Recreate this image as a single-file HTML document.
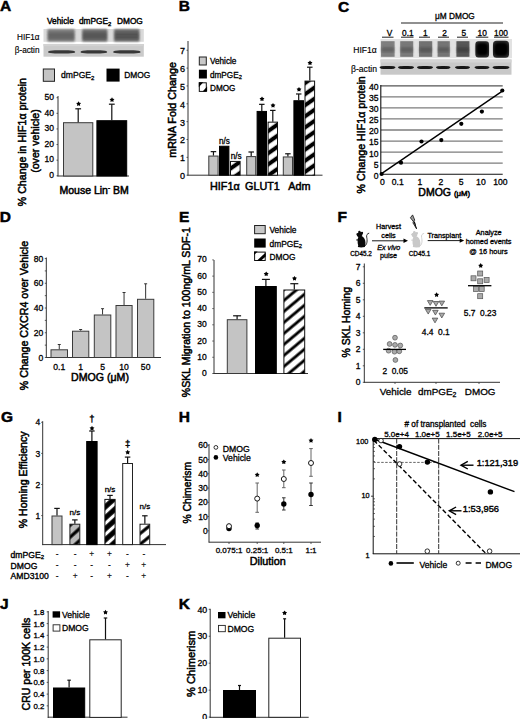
<!DOCTYPE html>
<html><head><meta charset="utf-8"><style>
html,body{margin:0;padding:0;background:#fff;width:520px;height:719px;overflow:hidden}
svg{display:block;font-family:"Liberation Sans",sans-serif}
text{stroke:#000;white-space:pre}
</style></head><body>
<svg width="520" height="719" viewBox="0 0 520 719">
<defs>
<filter id="bl1" x="-20%" y="-40%" width="140%" height="180%"><feGaussianBlur stdDeviation="1"/></filter>
<filter id="bl08" x="-20%" y="-60%" width="140%" height="220%"><feGaussianBlur stdDeviation="0.8"/></filter>
<filter id="bl05" x="-20%" y="-60%" width="140%" height="220%"><feGaussianBlur stdDeviation="0.6"/></filter>
<pattern id="hB" patternUnits="userSpaceOnUse" width="9.093" height="9.093" patternTransform="translate(305,94.2) rotate(-35)"><rect width="9.093" height="9.093" fill="#fff"/><rect y="0" width="9.093" height="2.046" fill="#000"/><rect y="7.047" width="9.093" height="2.046" fill="#000"/></pattern>
<pattern id="hE" patternUnits="userSpaceOnUse" width="8.426" height="8.426" patternTransform="translate(284,344.4) rotate(-40)"><rect width="8.426" height="8.426" fill="#fff"/><rect y="0" width="8.426" height="1.433" fill="#000"/><rect y="6.994" width="8.426" height="1.433" fill="#000"/></pattern>


<pattern id="hG1" patternUnits="userSpaceOnUse" width="8.918" height="8.918" patternTransform="translate(69.5,537.7) rotate(-42)"><rect width="8.918" height="8.918" fill="#bcbcbc"/><rect y="0" width="8.918" height="1.605" fill="#000"/><rect y="7.313" width="8.918" height="1.605" fill="#000"/></pattern>
<pattern id="hG2" patternUnits="userSpaceOnUse" width="8.175" height="8.175" patternTransform="translate(104.6,518.5) rotate(-42)"><rect width="8.175" height="8.175" fill="#fff"/><rect y="0" width="8.175" height="2.534" fill="#000"/><rect y="5.640" width="8.175" height="2.534" fill="#000"/></pattern>
<pattern id="hG3" patternUnits="userSpaceOnUse" width="8.315" height="8.315" patternTransform="translate(139.9,533.7) rotate(-39)"><rect width="8.315" height="8.315" fill="#fff"/><rect y="0" width="8.315" height="1.538" fill="#000"/><rect y="6.777" width="8.315" height="1.538" fill="#000"/></pattern>
</defs>
<text x="0.00" y="10.80" font-size="15.5" stroke-width="0.5" font-weight="bold">A</text>
<text x="178.80" y="11.00" font-size="15.5" stroke-width="0.5" font-weight="bold">B</text>
<text x="338.10" y="11.50" font-size="15.5" stroke-width="0.5" font-weight="bold">C</text>
<text x="-0.20" y="221.90" font-size="15.5" stroke-width="0.5" font-weight="bold">D</text>
<text x="179.00" y="222.30" font-size="15.5" stroke-width="0.5" font-weight="bold">E</text>
<text x="337.50" y="221.90" font-size="15.5" stroke-width="0.5" font-weight="bold">F</text>
<text x="1.00" y="421.50" font-size="15.5" stroke-width="0.5" font-weight="bold">G</text>
<text x="178.70" y="421.70" font-size="15.5" stroke-width="0.5" font-weight="bold">H</text>
<text x="337.50" y="421.50" font-size="15.5" stroke-width="0.5" font-weight="bold">I</text>
<text x="0.00" y="609.00" font-size="15.5" stroke-width="0.5" font-weight="bold">J</text>
<text x="178.70" y="608.80" font-size="15.5" stroke-width="0.5" font-weight="bold">K</text>
<text x="47.00" y="24.30" font-size="8.3" stroke-width="0.4">Vehicle</text>
<text x="79.00" y="24.30" font-size="8.3" stroke-width="0.4">dmPGE<tspan font-size="70%" dy="1.5">2</tspan></text>
<text x="117.00" y="24.30" font-size="8.3" stroke-width="0.4">DMOG</text>
<text x="39.50" y="39.50" font-size="8.2" stroke-width="0.15" text-anchor="end">HIF1α</text>
<text x="39.50" y="53.20" font-size="8.2" stroke-width="0.15" text-anchor="end">β-actin</text>
<rect x="43.5" y="29" width="100.3" height="12.8" fill="#dadada"/>
<rect x="47.6" y="29.4" width="26.999999999999993" height="12.2" fill="#8a8a8a" filter="url(#bl08)"/>
<rect x="48.1" y="32.5" width="25.999999999999993" height="6.5" fill="#4e4e4e" opacity="0.45" filter="url(#bl1)"/>
<rect x="47.9" y="29.8" width="26.39999999999999" height="1.5" fill="#4e4e4e" opacity="0.6" filter="url(#bl08)"/>
<rect x="47.9" y="32.8" width="26.39999999999999" height="1.5" fill="#4e4e4e" opacity="0.6" filter="url(#bl08)"/>
<rect x="47.9" y="35.8" width="26.39999999999999" height="1.5" fill="#4e4e4e" opacity="0.6" filter="url(#bl08)"/>
<rect x="47.9" y="38.8" width="26.39999999999999" height="1.5" fill="#4e4e4e" opacity="0.6" filter="url(#bl08)"/>
<rect x="82.3" y="29.4" width="24.900000000000006" height="12.2" fill="#7c7c7c" filter="url(#bl08)"/>
<rect x="82.8" y="32.5" width="23.900000000000006" height="6.5" fill="#404040" opacity="0.45" filter="url(#bl1)"/>
<rect x="82.6" y="29.8" width="24.300000000000004" height="1.5" fill="#404040" opacity="0.6" filter="url(#bl08)"/>
<rect x="82.6" y="32.8" width="24.300000000000004" height="1.5" fill="#404040" opacity="0.6" filter="url(#bl08)"/>
<rect x="82.6" y="35.8" width="24.300000000000004" height="1.5" fill="#404040" opacity="0.6" filter="url(#bl08)"/>
<rect x="82.6" y="38.8" width="24.300000000000004" height="1.5" fill="#404040" opacity="0.6" filter="url(#bl08)"/>
<rect x="114.2" y="29.4" width="25.10000000000001" height="12.2" fill="#7a7a7a" filter="url(#bl08)"/>
<rect x="114.7" y="32.5" width="24.10000000000001" height="6.5" fill="#3c3c3c" opacity="0.45" filter="url(#bl1)"/>
<rect x="114.5" y="29.8" width="24.500000000000007" height="1.5" fill="#3c3c3c" opacity="0.6" filter="url(#bl08)"/>
<rect x="114.5" y="32.8" width="24.500000000000007" height="1.5" fill="#3c3c3c" opacity="0.6" filter="url(#bl08)"/>
<rect x="114.5" y="35.8" width="24.500000000000007" height="1.5" fill="#3c3c3c" opacity="0.6" filter="url(#bl08)"/>
<rect x="114.5" y="38.8" width="24.500000000000007" height="1.5" fill="#3c3c3c" opacity="0.6" filter="url(#bl08)"/>
<rect x="43.5" y="44" width="100.3" height="12.7" fill="#cacaca"/>
<rect x="43.5" y="44" width="100.3" height="2.2" fill="#d2d2d2"/>
<rect x="48" y="50.2" width="27.200000000000003" height="3.4" rx="7" ry="1.7" fill="#383838" filter="url(#bl05)"/>
<rect x="80.5" y="50.2" width="26.700000000000003" height="3.4" rx="7" ry="1.7" fill="#383838" filter="url(#bl05)"/>
<rect x="113.1" y="50.2" width="27.5" height="3.4" rx="7" ry="1.7" fill="#383838" filter="url(#bl05)"/>
<rect x="43.30" y="69.00" width="11.20" height="12.30" fill="#c4c4c4" stroke="#222" stroke-width="1"/>
<text x="61.00" y="78.00" font-size="8.6" stroke-width="0.3">dmPGE<tspan font-size="70%" dy="1.5">2</tspan></text>
<rect x="106.50" y="68.60" width="13.10" height="13.00" fill="#000"/>
<text x="124.20" y="78.00" font-size="8.4" stroke-width="0.3">DMOG</text>
<line x1="58.00" y1="96.00" x2="58.00" y2="176.30" stroke="#333" stroke-width="1"/>
<line x1="57.50" y1="176.00" x2="129.00" y2="176.00" stroke="#333" stroke-width="1"/>
<text x="54.00" y="178.10" font-size="8.5" stroke-width="0.3" text-anchor="end">0</text>
<line x1="56.50" y1="175.80" x2="58.00" y2="175.80" stroke="#333" stroke-width="0.8"/>
<text x="54.00" y="162.48" font-size="8.5" stroke-width="0.3" text-anchor="end">10</text>
<line x1="56.50" y1="160.18" x2="58.00" y2="160.18" stroke="#333" stroke-width="0.8"/>
<text x="54.00" y="146.86" font-size="8.5" stroke-width="0.3" text-anchor="end">20</text>
<line x1="56.50" y1="144.56" x2="58.00" y2="144.56" stroke="#333" stroke-width="0.8"/>
<text x="54.00" y="131.24" font-size="8.5" stroke-width="0.3" text-anchor="end">30</text>
<line x1="56.50" y1="128.94" x2="58.00" y2="128.94" stroke="#333" stroke-width="0.8"/>
<text x="54.00" y="115.62" font-size="8.5" stroke-width="0.3" text-anchor="end">40</text>
<line x1="56.50" y1="113.32" x2="58.00" y2="113.32" stroke="#333" stroke-width="0.8"/>
<text x="54.00" y="100.00" font-size="8.5" stroke-width="0.3" text-anchor="end">50</text>
<line x1="56.50" y1="97.70" x2="58.00" y2="97.70" stroke="#333" stroke-width="0.8"/>
<rect x="63.50" y="122.70" width="29.30" height="53.30" fill="#c4c4c4" stroke="#3a3a3a" stroke-width="1"/>
<rect x="96.90" y="120.70" width="29.80" height="55.30" fill="#000" stroke="#000" stroke-width="1"/>
<line x1="78.20" y1="122.20" x2="78.20" y2="108.80" stroke="#111" stroke-width="1.2"/>
<line x1="75.30" y1="108.80" x2="81.10" y2="108.80" stroke="#111" stroke-width="1.2"/>
<line x1="111.80" y1="120.20" x2="111.80" y2="104.20" stroke="#111" stroke-width="1.2"/>
<line x1="108.90" y1="104.20" x2="114.70" y2="104.20" stroke="#111" stroke-width="1.2"/>
<polygon points="78.60,101.20 79.44,102.64 81.07,103.00 79.96,104.24 80.13,105.90 78.60,105.23 77.07,105.90 77.24,104.24 76.13,103.00 77.76,102.64" fill="#000"/>
<polygon points="112.00,97.20 112.84,98.64 114.47,99.00 113.36,100.24 113.53,101.90 112.00,101.23 110.47,101.90 110.64,100.24 109.53,99.00 111.16,98.64" fill="#000"/>
<text x="59.50" y="193.80" font-size="10.5" stroke-width="0.5">Mouse Lin<tspan font-size="60%" dy="-4">-</tspan><tspan dy="4"> BM</tspan></text>
<text x="26.00" y="142.15" font-size="10.6" stroke-width="0.5" text-anchor="middle" transform="rotate(-90 26.00 142.15)">% Change in HIF1α protein</text>
<text x="38.60" y="141.00" font-size="10.6" stroke-width="0.5" text-anchor="middle" transform="rotate(-90 38.60 141.00)">(over vehicle)</text>
<line x1="188.00" y1="41.00" x2="188.00" y2="175.50" stroke="#333" stroke-width="1"/>
<line x1="187.50" y1="175.20" x2="322.50" y2="175.20" stroke="#333" stroke-width="1"/>
<text x="185.00" y="179.10" font-size="9" stroke-width="0.3" text-anchor="end">0</text>
<line x1="186.50" y1="175.20" x2="188.00" y2="175.20" stroke="#333" stroke-width="0.8"/>
<text x="185.00" y="161.25" font-size="9" stroke-width="0.3" text-anchor="end">1</text>
<line x1="186.50" y1="157.35" x2="188.00" y2="157.35" stroke="#333" stroke-width="0.8"/>
<text x="185.00" y="143.40" font-size="9" stroke-width="0.3" text-anchor="end">2</text>
<line x1="186.50" y1="139.50" x2="188.00" y2="139.50" stroke="#333" stroke-width="0.8"/>
<text x="185.00" y="125.55" font-size="9" stroke-width="0.3" text-anchor="end">3</text>
<line x1="186.50" y1="121.65" x2="188.00" y2="121.65" stroke="#333" stroke-width="0.8"/>
<text x="185.00" y="107.70" font-size="9" stroke-width="0.3" text-anchor="end">4</text>
<line x1="186.50" y1="103.80" x2="188.00" y2="103.80" stroke="#333" stroke-width="0.8"/>
<text x="185.00" y="89.85" font-size="9" stroke-width="0.3" text-anchor="end">5</text>
<line x1="186.50" y1="85.95" x2="188.00" y2="85.95" stroke="#333" stroke-width="0.8"/>
<text x="185.00" y="72.00" font-size="9" stroke-width="0.3" text-anchor="end">6</text>
<line x1="186.50" y1="68.10" x2="188.00" y2="68.10" stroke="#333" stroke-width="0.8"/>
<text x="185.00" y="54.15" font-size="9" stroke-width="0.3" text-anchor="end">7</text>
<line x1="186.50" y1="50.25" x2="188.00" y2="50.25" stroke="#333" stroke-width="0.8"/>
<text x="176.00" y="109.90" font-size="10.75" stroke-width="0.5" text-anchor="middle" transform="rotate(-90 176.00 109.90)">mRNA Fold Change</text>
<rect x="199.30" y="57.00" width="7.00" height="8.00" fill="#c8c8c8" stroke="#222" stroke-width="1"/>
<rect x="198.90" y="69.70" width="8.00" height="8.80" fill="#000"/>
<rect x="199.30" y="82.80" width="7.00" height="8.60" fill="#fff" stroke="#111" stroke-width="1"/>
<polygon points="198.8,82.3 203.2,82.3 198.8,87.3" fill="#000"/>
<polygon points="207.1,91.6 202.6,91.6 207.1,86.4" fill="#000"/>
<text x="210.00" y="64.20" font-size="8.2" stroke-width="0.3">Vehicle</text>
<text x="210.00" y="77.60" font-size="8.2" stroke-width="0.3">dmPGE<tspan font-size="70%" dy="1.5">2</tspan></text>
<text x="210.00" y="90.60" font-size="8.2" stroke-width="0.3">DMOG</text>
<rect x="208.80" y="156.06" width="9.30" height="19.13" fill="#c4c4c4" stroke="#3a3a3a" stroke-width="1"/>
<line x1="213.45" y1="155.56" x2="213.45" y2="151.64" stroke="#111" stroke-width="1.2"/>
<line x1="210.70" y1="151.64" x2="216.20" y2="151.64" stroke="#111" stroke-width="1.2"/>
<rect x="219.50" y="146.25" width="9.40" height="28.95" fill="#000" stroke="#000" stroke-width="1"/>
<rect x="230.50" y="161.42" width="9.60" height="13.78" fill="url(#hB)" stroke="#111" stroke-width="1"/>
<rect x="246.70" y="156.60" width="9.00" height="18.60" fill="#c4c4c4" stroke="#3a3a3a" stroke-width="1"/>
<line x1="251.20" y1="156.10" x2="251.20" y2="151.99" stroke="#111" stroke-width="1.2"/>
<line x1="248.45" y1="151.99" x2="253.95" y2="151.99" stroke="#111" stroke-width="1.2"/>
<rect x="257.10" y="111.44" width="9.40" height="63.76" fill="#000" stroke="#000" stroke-width="1"/>
<line x1="261.80" y1="110.94" x2="261.80" y2="104.34" stroke="#111" stroke-width="1.2"/>
<line x1="259.05" y1="104.34" x2="264.55" y2="104.34" stroke="#111" stroke-width="1.2"/>
<rect x="268.10" y="122.15" width="9.40" height="53.05" fill="url(#hB)" stroke="#111" stroke-width="1"/>
<line x1="272.80" y1="121.65" x2="272.80" y2="110.40" stroke="#111" stroke-width="1.2"/>
<line x1="270.05" y1="110.40" x2="275.55" y2="110.40" stroke="#111" stroke-width="1.2"/>
<rect x="283.30" y="156.96" width="9.20" height="18.24" fill="#c4c4c4" stroke="#3a3a3a" stroke-width="1"/>
<line x1="287.90" y1="156.46" x2="287.90" y2="153.78" stroke="#111" stroke-width="1.2"/>
<line x1="285.15" y1="153.78" x2="290.65" y2="153.78" stroke="#111" stroke-width="1.2"/>
<rect x="293.90" y="100.73" width="9.60" height="74.47" fill="#000" stroke="#000" stroke-width="1"/>
<line x1="298.70" y1="100.23" x2="298.70" y2="93.98" stroke="#111" stroke-width="1.2"/>
<line x1="295.95" y1="93.98" x2="301.45" y2="93.98" stroke="#111" stroke-width="1.2"/>
<rect x="305.00" y="81.09" width="9.60" height="94.11" fill="url(#hB)" stroke="#111" stroke-width="1"/>
<line x1="309.80" y1="80.59" x2="309.80" y2="67.21" stroke="#111" stroke-width="1.2"/>
<line x1="307.05" y1="67.21" x2="312.55" y2="67.21" stroke="#111" stroke-width="1.2"/>
<polygon points="262.00,96.40 262.84,97.84 264.47,98.20 263.36,99.44 263.53,101.10 262.00,100.43 260.47,101.10 260.64,99.44 259.53,98.20 261.16,97.84" fill="#000"/>
<polygon points="273.00,102.90 273.84,104.34 275.47,104.70 274.36,105.94 274.53,107.60 273.00,106.93 271.47,107.60 271.64,105.94 270.53,104.70 272.16,104.34" fill="#000"/>
<polygon points="299.00,86.90 299.84,88.34 301.47,88.70 300.36,89.94 300.53,91.60 299.00,90.93 297.47,91.60 297.64,89.94 296.53,88.70 298.16,88.34" fill="#000"/>
<polygon points="310.00,60.40 310.84,61.84 312.47,62.20 311.36,63.44 311.53,65.10 310.00,64.43 308.47,65.10 308.64,63.44 307.53,62.20 309.16,61.84" fill="#000"/>
<text x="224.50" y="143.60" font-size="8.2" stroke-width="0.3" text-anchor="middle">n/s</text>
<text x="236.10" y="159.30" font-size="8.2" stroke-width="0.3" text-anchor="middle">n/s</text>
<text x="224.85" y="190.40" font-size="10.8" stroke-width="0.5" text-anchor="middle">HIF1α</text>
<text x="262.45" y="190.40" font-size="10.8" stroke-width="0.5" text-anchor="middle">GLUT1</text>
<text x="299.40" y="190.40" font-size="10.8" stroke-width="0.5" text-anchor="middle">Adm</text>
<text x="435.00" y="19.20" font-size="8.3" stroke-width="0.3">μM DMOG</text>
<line x1="401.00" y1="23.00" x2="503.00" y2="23.00" stroke="#222" stroke-width="1.2"/>
<text x="389.50" y="35.80" font-size="8.3" stroke-width="0.3" text-anchor="middle">V</text>
<line x1="382.00" y1="37.20" x2="393.50" y2="37.20" stroke="#222" stroke-width="1"/>
<text x="407.80" y="35.80" font-size="8.3" stroke-width="0.3" text-anchor="middle">0.1</text>
<line x1="401.00" y1="37.20" x2="413.50" y2="37.20" stroke="#222" stroke-width="1"/>
<text x="425.30" y="35.80" font-size="8.3" stroke-width="0.3" text-anchor="middle">1</text>
<line x1="419.00" y1="37.20" x2="430.00" y2="37.20" stroke="#222" stroke-width="1"/>
<text x="444.50" y="35.80" font-size="8.3" stroke-width="0.3" text-anchor="middle">2</text>
<line x1="438.00" y1="37.20" x2="449.00" y2="37.20" stroke="#222" stroke-width="1"/>
<text x="463.80" y="35.80" font-size="8.3" stroke-width="0.3" text-anchor="middle">5</text>
<line x1="457.00" y1="37.20" x2="468.00" y2="37.20" stroke="#222" stroke-width="1"/>
<text x="482.20" y="35.80" font-size="8.3" stroke-width="0.3" text-anchor="middle">10</text>
<line x1="475.80" y1="37.20" x2="488.30" y2="37.20" stroke="#222" stroke-width="1"/>
<text x="501.00" y="35.80" font-size="8.3" stroke-width="0.3" text-anchor="middle">100</text>
<line x1="494.00" y1="37.20" x2="508.50" y2="37.20" stroke="#222" stroke-width="1"/>
<rect x="380.5" y="39" width="131.5" height="19.2" fill="#e2e2e2"/>
<rect x="381" y="41.2" width="13.600000000000023" height="15.6" fill="#8c8c8c" filter="url(#bl05)"/>
<rect x="381.5" y="47.2" width="12.600000000000023" height="5.2" fill="#505050" opacity="0.55" filter="url(#bl1)"/>
<rect x="381.4" y="42.1" width="12.800000000000022" height="1.3" fill="#505050" opacity="0.6" filter="url(#bl08)"/>
<rect x="381.4" y="45.3" width="12.800000000000022" height="1.3" fill="#505050" opacity="0.6" filter="url(#bl08)"/>
<rect x="381.4" y="48.6" width="12.800000000000022" height="1.3" fill="#505050" opacity="0.6" filter="url(#bl08)"/>
<rect x="381.4" y="51.7" width="12.800000000000022" height="1.3" fill="#505050" opacity="0.6" filter="url(#bl08)"/>
<rect x="381.4" y="54.8" width="12.800000000000022" height="1.3" fill="#505050" opacity="0.6" filter="url(#bl08)"/>
<rect x="400.2" y="41.2" width="13.0" height="15.6" fill="#868686" filter="url(#bl05)"/>
<rect x="400.7" y="47.2" width="12.0" height="5.2" fill="#4c4c4c" opacity="0.55" filter="url(#bl1)"/>
<rect x="400.59999999999997" y="42.1" width="12.2" height="1.3" fill="#4c4c4c" opacity="0.6" filter="url(#bl08)"/>
<rect x="400.59999999999997" y="45.3" width="12.2" height="1.3" fill="#4c4c4c" opacity="0.6" filter="url(#bl08)"/>
<rect x="400.59999999999997" y="48.6" width="12.2" height="1.3" fill="#4c4c4c" opacity="0.6" filter="url(#bl08)"/>
<rect x="400.59999999999997" y="51.7" width="12.2" height="1.3" fill="#4c4c4c" opacity="0.6" filter="url(#bl08)"/>
<rect x="400.59999999999997" y="54.8" width="12.2" height="1.3" fill="#4c4c4c" opacity="0.6" filter="url(#bl08)"/>
<rect x="419" y="41.2" width="13.199999999999989" height="15.6" fill="#7e7e7e" filter="url(#bl05)"/>
<rect x="419.5" y="47.2" width="12.199999999999989" height="5.2" fill="#444444" opacity="0.55" filter="url(#bl1)"/>
<rect x="419.4" y="42.1" width="12.399999999999988" height="1.3" fill="#444444" opacity="0.6" filter="url(#bl08)"/>
<rect x="419.4" y="45.3" width="12.399999999999988" height="1.3" fill="#444444" opacity="0.6" filter="url(#bl08)"/>
<rect x="419.4" y="48.6" width="12.399999999999988" height="1.3" fill="#444444" opacity="0.6" filter="url(#bl08)"/>
<rect x="419.4" y="51.7" width="12.399999999999988" height="1.3" fill="#444444" opacity="0.6" filter="url(#bl08)"/>
<rect x="419.4" y="54.8" width="12.399999999999988" height="1.3" fill="#444444" opacity="0.6" filter="url(#bl08)"/>
<rect x="437.6" y="41.2" width="12.199999999999989" height="15.6" fill="#828282" filter="url(#bl05)"/>
<rect x="438.1" y="47.2" width="11.199999999999989" height="5.2" fill="#484848" opacity="0.55" filter="url(#bl1)"/>
<rect x="438.0" y="42.1" width="11.399999999999988" height="1.3" fill="#484848" opacity="0.6" filter="url(#bl08)"/>
<rect x="438.0" y="45.3" width="11.399999999999988" height="1.3" fill="#484848" opacity="0.6" filter="url(#bl08)"/>
<rect x="438.0" y="48.6" width="11.399999999999988" height="1.3" fill="#484848" opacity="0.6" filter="url(#bl08)"/>
<rect x="438.0" y="51.7" width="11.399999999999988" height="1.3" fill="#484848" opacity="0.6" filter="url(#bl08)"/>
<rect x="438.0" y="54.8" width="11.399999999999988" height="1.3" fill="#484848" opacity="0.6" filter="url(#bl08)"/>
<rect x="456.4" y="41.2" width="13.0" height="15.6" fill="#626262" filter="url(#bl05)"/>
<rect x="456.9" y="47.2" width="12.0" height="5.2" fill="#303030" opacity="0.55" filter="url(#bl1)"/>
<rect x="456.79999999999995" y="42.1" width="12.2" height="1.3" fill="#303030" opacity="0.6" filter="url(#bl08)"/>
<rect x="456.79999999999995" y="45.3" width="12.2" height="1.3" fill="#303030" opacity="0.6" filter="url(#bl08)"/>
<rect x="456.79999999999995" y="48.6" width="12.2" height="1.3" fill="#303030" opacity="0.6" filter="url(#bl08)"/>
<rect x="456.79999999999995" y="51.7" width="12.2" height="1.3" fill="#303030" opacity="0.6" filter="url(#bl08)"/>
<rect x="456.79999999999995" y="54.8" width="12.2" height="1.3" fill="#303030" opacity="0.6" filter="url(#bl08)"/>
<rect x="475.4" y="41.2" width="13.6" height="16.2" rx="3" fill="#2a2a2a" filter="url(#bl05)"/>
<rect x="476.4" y="43" width="11.6" height="12.5" rx="4" fill="#050505" filter="url(#bl08)"/>
<rect x="493" y="40.8" width="16" height="17" rx="3.5" fill="#2a2a2a" filter="url(#bl05)"/>
<rect x="494" y="42.5" width="14" height="13.5" rx="4.5" fill="#020202" filter="url(#bl08)"/>
<rect x="380.5" y="59.5" width="131" height="15.2" fill="#c8c8c8"/>
<rect x="380.5" y="59.5" width="131" height="3" fill="#d4d4d4"/>
<rect x="379.5" y="65.9" width="16.0" height="3.2" rx="6" ry="1.6" fill="#141414" filter="url(#bl05)"/>
<rect x="398" y="65.9" width="16" height="3.2" rx="6" ry="1.6" fill="#141414" filter="url(#bl05)"/>
<rect x="417" y="65.9" width="16" height="3.2" rx="6" ry="1.6" fill="#141414" filter="url(#bl05)"/>
<rect x="436" y="65.9" width="14.5" height="3.2" rx="6" ry="1.6" fill="#141414" filter="url(#bl05)"/>
<rect x="455" y="65.9" width="15" height="3.2" rx="6" ry="1.6" fill="#141414" filter="url(#bl05)"/>
<rect x="474.5" y="65.9" width="15.0" height="3.2" rx="6" ry="1.6" fill="#141414" filter="url(#bl05)"/>
<rect x="492.5" y="65.9" width="17.0" height="3.2" rx="6" ry="1.6" fill="#141414" filter="url(#bl05)"/>
<text x="376.80" y="53.30" font-size="8.6" stroke-width="0.15" text-anchor="end">HIF1α</text>
<text x="377.00" y="71.50" font-size="8.6" stroke-width="0.15" text-anchor="end">β-actin</text>
<line x1="380.80" y1="163.15" x2="502.70" y2="163.15" stroke="#7c7c7c" stroke-width="1.3"/>
<line x1="380.80" y1="152.10" x2="502.70" y2="152.10" stroke="#7c7c7c" stroke-width="1.3"/>
<line x1="380.80" y1="141.05" x2="502.70" y2="141.05" stroke="#7c7c7c" stroke-width="1.3"/>
<line x1="380.80" y1="130.00" x2="502.70" y2="130.00" stroke="#7c7c7c" stroke-width="1.3"/>
<line x1="380.80" y1="118.95" x2="502.70" y2="118.95" stroke="#7c7c7c" stroke-width="1.3"/>
<line x1="380.80" y1="107.90" x2="502.70" y2="107.90" stroke="#7c7c7c" stroke-width="1.3"/>
<line x1="380.80" y1="96.85" x2="502.70" y2="96.85" stroke="#7c7c7c" stroke-width="1.3"/>
<line x1="380.80" y1="85.80" x2="502.70" y2="85.80" stroke="#555" stroke-width="1.3"/>
<line x1="380.80" y1="85.00" x2="380.80" y2="174.70" stroke="#111" stroke-width="1.1"/>
<line x1="380.30" y1="174.20" x2="502.70" y2="174.20" stroke="#111" stroke-width="1.1"/>
<text x="378.60" y="178.60" font-size="8.6" stroke-width="0.3" text-anchor="end">0</text>
<text x="378.60" y="167.55" font-size="8.6" stroke-width="0.3" text-anchor="end">5</text>
<text x="378.60" y="156.50" font-size="8.6" stroke-width="0.3" text-anchor="end">10</text>
<text x="378.60" y="145.45" font-size="8.6" stroke-width="0.3" text-anchor="end">15</text>
<text x="378.60" y="134.40" font-size="8.6" stroke-width="0.3" text-anchor="end">20</text>
<text x="378.60" y="123.35" font-size="8.6" stroke-width="0.3" text-anchor="end">25</text>
<text x="378.60" y="112.30" font-size="8.6" stroke-width="0.3" text-anchor="end">30</text>
<text x="378.60" y="101.25" font-size="8.6" stroke-width="0.3" text-anchor="end">35</text>
<text x="378.60" y="90.20" font-size="8.6" stroke-width="0.3" text-anchor="end">40</text>
<text x="382.50" y="185.00" font-size="8.6" stroke-width="0.3" text-anchor="middle">0</text>
<text x="397.70" y="185.00" font-size="8.6" stroke-width="0.3" text-anchor="middle">0.1</text>
<text x="420.00" y="185.00" font-size="8.6" stroke-width="0.3" text-anchor="middle">1</text>
<text x="441.00" y="185.00" font-size="8.6" stroke-width="0.3" text-anchor="middle">2</text>
<text x="461.10" y="185.00" font-size="8.6" stroke-width="0.3" text-anchor="middle">5</text>
<text x="480.90" y="185.00" font-size="8.6" stroke-width="0.3" text-anchor="middle">10</text>
<text x="500.40" y="185.00" font-size="8.6" stroke-width="0.3" text-anchor="middle">100</text>
<circle cx="381.60" cy="174.00" r="2.10" fill="#000"/>
<circle cx="401.00" cy="162.70" r="2.10" fill="#000"/>
<circle cx="421.50" cy="141.50" r="2.10" fill="#000"/>
<circle cx="441.30" cy="140.10" r="2.10" fill="#000"/>
<circle cx="461.30" cy="123.80" r="2.10" fill="#000"/>
<circle cx="481.90" cy="111.60" r="2.10" fill="#000"/>
<circle cx="502.30" cy="90.50" r="2.10" fill="#000"/>
<line x1="380.80" y1="174.20" x2="502.70" y2="90.80" stroke="#000" stroke-width="1.4"/>
<text x="418.30" y="196.30" font-size="10.5" stroke-width="0.5">DMOG <tspan font-size="7.8">(μM)</tspan></text>
<text x="364.80" y="134.85" font-size="10.63" stroke-width="0.5" text-anchor="middle" transform="rotate(-90 364.80 134.85)">% Change HIF1α protein</text>
<line x1="46.30" y1="257.50" x2="46.30" y2="358.00" stroke="#333" stroke-width="1"/>
<line x1="46.00" y1="357.50" x2="161.00" y2="357.50" stroke="#333" stroke-width="1"/>
<text x="43.30" y="360.60" font-size="8.6" stroke-width="0.3" text-anchor="end">0</text>
<text x="43.30" y="335.86" font-size="8.6" stroke-width="0.3" text-anchor="end">20</text>
<text x="43.30" y="311.12" font-size="8.6" stroke-width="0.3" text-anchor="end">40</text>
<text x="43.30" y="286.38" font-size="8.6" stroke-width="0.3" text-anchor="end">60</text>
<text x="43.30" y="261.64" font-size="8.6" stroke-width="0.3" text-anchor="end">80</text>
<line x1="44.80" y1="357.50" x2="46.30" y2="357.50" stroke="#333" stroke-width="0.8"/>
<line x1="44.80" y1="345.13" x2="46.30" y2="345.13" stroke="#333" stroke-width="0.8"/>
<line x1="44.80" y1="332.76" x2="46.30" y2="332.76" stroke="#333" stroke-width="0.8"/>
<line x1="44.80" y1="320.39" x2="46.30" y2="320.39" stroke="#333" stroke-width="0.8"/>
<line x1="44.80" y1="308.02" x2="46.30" y2="308.02" stroke="#333" stroke-width="0.8"/>
<line x1="44.80" y1="295.65" x2="46.30" y2="295.65" stroke="#333" stroke-width="0.8"/>
<line x1="44.80" y1="283.28" x2="46.30" y2="283.28" stroke="#333" stroke-width="0.8"/>
<line x1="44.80" y1="270.91" x2="46.30" y2="270.91" stroke="#333" stroke-width="0.8"/>
<line x1="44.80" y1="258.54" x2="46.30" y2="258.54" stroke="#333" stroke-width="0.8"/>
<rect x="51.00" y="349.80" width="16.50" height="7.70" fill="#c4c4c4" stroke="#3a3a3a" stroke-width="1"/>
<line x1="59.25" y1="349.30" x2="59.25" y2="344.50" stroke="#333" stroke-width="1"/>
<line x1="57.75" y1="344.50" x2="60.75" y2="344.50" stroke="#333" stroke-width="1"/>
<text x="59.25" y="369.90" font-size="8.6" stroke-width="0.3" text-anchor="middle">0.1</text>
<rect x="72.50" y="331.20" width="16.30" height="26.30" fill="#c4c4c4" stroke="#3a3a3a" stroke-width="1"/>
<line x1="80.65" y1="330.70" x2="80.65" y2="329.50" stroke="#333" stroke-width="1"/>
<line x1="79.15" y1="329.50" x2="82.15" y2="329.50" stroke="#333" stroke-width="1"/>
<text x="80.65" y="369.90" font-size="8.6" stroke-width="0.3" text-anchor="middle">1</text>
<rect x="94.30" y="315.00" width="16.50" height="42.50" fill="#c4c4c4" stroke="#3a3a3a" stroke-width="1"/>
<line x1="102.55" y1="314.50" x2="102.55" y2="308.70" stroke="#333" stroke-width="1"/>
<line x1="101.05" y1="308.70" x2="104.05" y2="308.70" stroke="#333" stroke-width="1"/>
<text x="102.55" y="369.90" font-size="8.6" stroke-width="0.3" text-anchor="middle">5</text>
<rect x="116.00" y="305.50" width="16.10" height="52.00" fill="#c4c4c4" stroke="#3a3a3a" stroke-width="1"/>
<line x1="124.05" y1="305.00" x2="124.05" y2="292.50" stroke="#333" stroke-width="1"/>
<line x1="122.55" y1="292.50" x2="125.55" y2="292.50" stroke="#333" stroke-width="1"/>
<text x="124.05" y="369.90" font-size="8.6" stroke-width="0.3" text-anchor="middle">10</text>
<rect x="137.50" y="299.30" width="16.30" height="58.20" fill="#c4c4c4" stroke="#3a3a3a" stroke-width="1"/>
<line x1="145.65" y1="298.80" x2="145.65" y2="283.80" stroke="#333" stroke-width="1"/>
<line x1="144.15" y1="283.80" x2="147.15" y2="283.80" stroke="#333" stroke-width="1"/>
<text x="145.65" y="369.90" font-size="8.6" stroke-width="0.3" text-anchor="middle">50</text>
<text x="100.00" y="380.50" font-size="10.6" stroke-width="0.5" text-anchor="middle">DMOG (μM)</text>
<text x="27.70" y="315.55" font-size="10.61" stroke-width="0.5" text-anchor="middle" transform="rotate(-90 27.70 315.55)">% Change CXCR4 over Vehicle</text>
<line x1="214.00" y1="260.00" x2="214.00" y2="374.00" stroke="#333" stroke-width="1"/>
<line x1="213.50" y1="373.50" x2="308.00" y2="373.50" stroke="#333" stroke-width="1"/>
<text x="206.70" y="376.10" font-size="8.5" stroke-width="0.3" text-anchor="end">0</text>
<line x1="212.30" y1="373.50" x2="213.80" y2="373.50" stroke="#333" stroke-width="0.8"/>
<text x="206.70" y="359.87" font-size="8.5" stroke-width="0.3" text-anchor="end">10</text>
<line x1="212.30" y1="357.27" x2="213.80" y2="357.27" stroke="#333" stroke-width="0.8"/>
<text x="206.70" y="343.64" font-size="8.5" stroke-width="0.3" text-anchor="end">20</text>
<line x1="212.30" y1="341.04" x2="213.80" y2="341.04" stroke="#333" stroke-width="0.8"/>
<text x="206.70" y="327.41" font-size="8.5" stroke-width="0.3" text-anchor="end">30</text>
<line x1="212.30" y1="324.81" x2="213.80" y2="324.81" stroke="#333" stroke-width="0.8"/>
<text x="206.70" y="311.18" font-size="8.5" stroke-width="0.3" text-anchor="end">40</text>
<line x1="212.30" y1="308.58" x2="213.80" y2="308.58" stroke="#333" stroke-width="0.8"/>
<text x="206.70" y="294.95" font-size="8.5" stroke-width="0.3" text-anchor="end">50</text>
<line x1="212.30" y1="292.35" x2="213.80" y2="292.35" stroke="#333" stroke-width="0.8"/>
<text x="206.70" y="278.72" font-size="8.5" stroke-width="0.3" text-anchor="end">60</text>
<line x1="212.30" y1="276.12" x2="213.80" y2="276.12" stroke="#333" stroke-width="0.8"/>
<text x="206.70" y="262.49" font-size="8.5" stroke-width="0.3" text-anchor="end">70</text>
<line x1="212.30" y1="259.89" x2="213.80" y2="259.89" stroke="#333" stroke-width="0.8"/>
<rect x="254.60" y="225.50" width="10.60" height="8.20" fill="#c8c8c8" stroke="#222" stroke-width="1"/>
<rect x="254.20" y="238.50" width="11.50" height="9.10" fill="#000"/>
<rect x="254.60" y="252.10" width="10.60" height="8.40" fill="#fff" stroke="#111" stroke-width="1"/>
<polygon points="254.1,251.6 257.6,251.6 254.1,255.0" fill="#000"/>
<polygon points="256.6,261.0 260.6,261.0 265.7,256.4 265.7,252.4" fill="#000"/>
<text x="269.50" y="232.80" font-size="8.4" stroke-width="0.3">Vehicle</text>
<text x="269.50" y="246.60" font-size="8.4" stroke-width="0.3">dmPGE<tspan font-size="70%" dy="1.5">2</tspan></text>
<text x="269.50" y="260.00" font-size="8.4" stroke-width="0.3">DMOG</text>
<rect x="227.30" y="319.70" width="19.60" height="53.80" fill="#c4c4c4" stroke="#3a3a3a" stroke-width="1"/>
<line x1="237.10" y1="319.20" x2="237.10" y2="315.80" stroke="#111" stroke-width="1.2"/>
<line x1="233.10" y1="315.80" x2="241.10" y2="315.80" stroke="#111" stroke-width="1.2"/>
<rect x="255.50" y="286.50" width="20.80" height="87.00" fill="#000" stroke="#000" stroke-width="1"/>
<line x1="265.90" y1="286.00" x2="265.90" y2="279.40" stroke="#111" stroke-width="1.2"/>
<line x1="261.90" y1="279.40" x2="269.90" y2="279.40" stroke="#111" stroke-width="1.2"/>
<rect x="283.90" y="290.00" width="20.80" height="83.50" fill="url(#hE)" stroke="#111" stroke-width="1"/>
<line x1="294.30" y1="289.50" x2="294.30" y2="283.70" stroke="#111" stroke-width="1.2"/>
<line x1="290.30" y1="283.70" x2="298.30" y2="283.70" stroke="#111" stroke-width="1.2"/>
<polygon points="266.20,271.40 267.04,272.84 268.67,273.20 267.56,274.44 267.73,276.10 266.20,275.43 264.67,276.10 264.84,274.44 263.73,273.20 265.36,272.84" fill="#000"/>
<polygon points="294.50,275.90 295.34,277.34 296.97,277.70 295.86,278.94 296.03,280.60 294.50,279.93 292.97,280.60 293.14,278.94 292.03,277.70 293.66,277.34" fill="#000"/>
<text x="189.60" y="312.15" font-size="10.57" stroke-width="0.5" text-anchor="middle" transform="rotate(-90 189.60 312.15)">%SKL Migration to 100ng/mL SDF-1</text>
<line x1="364.30" y1="263.50" x2="364.30" y2="382.80" stroke="#333" stroke-width="1"/>
<line x1="364.00" y1="382.30" x2="500.00" y2="382.30" stroke="#333" stroke-width="1"/>
<text x="360.60" y="385.40" font-size="8.5" stroke-width="0.3" text-anchor="end">0</text>
<line x1="362.80" y1="382.30" x2="364.30" y2="382.30" stroke="#333" stroke-width="0.8"/>
<text x="360.60" y="368.90" font-size="8.5" stroke-width="0.3" text-anchor="end">1</text>
<line x1="362.80" y1="365.80" x2="364.30" y2="365.80" stroke="#333" stroke-width="0.8"/>
<text x="360.60" y="352.40" font-size="8.5" stroke-width="0.3" text-anchor="end">2</text>
<line x1="362.80" y1="349.30" x2="364.30" y2="349.30" stroke="#333" stroke-width="0.8"/>
<text x="360.60" y="335.90" font-size="8.5" stroke-width="0.3" text-anchor="end">3</text>
<line x1="362.80" y1="332.80" x2="364.30" y2="332.80" stroke="#333" stroke-width="0.8"/>
<text x="360.60" y="319.40" font-size="8.5" stroke-width="0.3" text-anchor="end">4</text>
<line x1="362.80" y1="316.30" x2="364.30" y2="316.30" stroke="#333" stroke-width="0.8"/>
<text x="360.60" y="302.90" font-size="8.5" stroke-width="0.3" text-anchor="end">5</text>
<line x1="362.80" y1="299.80" x2="364.30" y2="299.80" stroke="#333" stroke-width="0.8"/>
<text x="360.60" y="286.40" font-size="8.5" stroke-width="0.3" text-anchor="end">6</text>
<line x1="362.80" y1="283.30" x2="364.30" y2="283.30" stroke="#333" stroke-width="0.8"/>
<text x="360.60" y="269.90" font-size="8.5" stroke-width="0.3" text-anchor="end">7</text>
<line x1="362.80" y1="266.80" x2="364.30" y2="266.80" stroke="#333" stroke-width="0.8"/>
<line x1="436.00" y1="382.30" x2="436.00" y2="384.00" stroke="#333" stroke-width="0.8"/>
<line x1="479.00" y1="382.30" x2="479.00" y2="384.00" stroke="#333" stroke-width="0.8"/>
<line x1="395.00" y1="382.30" x2="395.00" y2="384.00" stroke="#333" stroke-width="0.8"/>
<text x="349.50" y="322.25" font-size="10.46" stroke-width="0.5" text-anchor="middle" transform="rotate(-90 349.50 322.25)">% SKL Homing</text>
<circle cx="395.00" cy="337.70" r="2.40" fill="#aaaaaa" stroke="#555" stroke-width="0.7"/>
<circle cx="389.60" cy="344.00" r="2.40" fill="#aaaaaa" stroke="#555" stroke-width="0.7"/>
<circle cx="395.00" cy="344.90" r="2.40" fill="#aaaaaa" stroke="#555" stroke-width="0.7"/>
<circle cx="400.30" cy="345.50" r="2.40" fill="#aaaaaa" stroke="#555" stroke-width="0.7"/>
<circle cx="388.60" cy="350.70" r="2.40" fill="#aaaaaa" stroke="#555" stroke-width="0.7"/>
<circle cx="394.50" cy="351.70" r="2.40" fill="#aaaaaa" stroke="#555" stroke-width="0.7"/>
<circle cx="399.30" cy="351.30" r="2.40" fill="#aaaaaa" stroke="#555" stroke-width="0.7"/>
<circle cx="395.40" cy="360.00" r="2.40" fill="#aaaaaa" stroke="#555" stroke-width="0.7"/>
<line x1="383.20" y1="349.40" x2="406.00" y2="349.40" stroke="#000" stroke-width="1.3"/>
<polygon points="427.40,300.60 433.00,300.60 430.20,305.36" fill="#aaaaaa" stroke="#444" stroke-width="0.7"/>
<polygon points="433.20,301.50 438.80,301.50 436.00,306.26" fill="#aaaaaa" stroke="#444" stroke-width="0.7"/>
<polygon points="439.00,301.10 444.60,301.10 441.80,305.86" fill="#aaaaaa" stroke="#444" stroke-width="0.7"/>
<polygon points="425.40,309.30 431.00,309.30 428.20,314.06" fill="#aaaaaa" stroke="#444" stroke-width="0.7"/>
<polygon points="432.60,310.30 438.20,310.30 435.40,315.06" fill="#aaaaaa" stroke="#444" stroke-width="0.7"/>
<polygon points="439.00,313.20 444.60,313.20 441.80,317.96" fill="#aaaaaa" stroke="#444" stroke-width="0.7"/>
<polygon points="432.20,318.10 437.80,318.10 435.00,322.86" fill="#aaaaaa" stroke="#444" stroke-width="0.7"/>
<line x1="424.30" y1="307.90" x2="447.70" y2="307.90" stroke="#000" stroke-width="1.3"/>
<rect x="477.70" y="271.00" width="5" height="5" fill="#aaaaaa" stroke="#555" stroke-width="0.7"/>
<rect x="471.00" y="275.80" width="5" height="5" fill="#aaaaaa" stroke="#555" stroke-width="0.7"/>
<rect x="484.10" y="277.40" width="5" height="5" fill="#aaaaaa" stroke="#555" stroke-width="0.7"/>
<rect x="477.70" y="278.80" width="5" height="5" fill="#aaaaaa" stroke="#555" stroke-width="0.7"/>
<rect x="473.40" y="286.50" width="5" height="5" fill="#aaaaaa" stroke="#555" stroke-width="0.7"/>
<rect x="479.20" y="286.50" width="5" height="5" fill="#aaaaaa" stroke="#555" stroke-width="0.7"/>
<rect x="477.70" y="293.70" width="5" height="5" fill="#aaaaaa" stroke="#555" stroke-width="0.7"/>
<line x1="468.00" y1="285.70" x2="491.40" y2="285.70" stroke="#000" stroke-width="1.3"/>
<polygon points="436.60,292.30 437.44,293.74 439.07,294.10 437.96,295.34 438.13,297.00 436.60,296.33 435.07,297.00 435.24,295.34 434.13,294.10 435.76,293.74" fill="#000"/>
<polygon points="480.70,263.10 481.54,264.54 483.17,264.90 482.06,266.14 482.23,267.80 480.70,267.13 479.17,267.80 479.34,266.14 478.23,264.90 479.86,264.54" fill="#000"/>
<text x="382.40" y="373.70" font-size="8.4" stroke-width="0.3">2  0.05</text>
<text x="421.80" y="334.80" font-size="8.4" stroke-width="0.3">4.4  0.1</text>
<text x="463.80" y="315.70" font-size="8.4" stroke-width="0.3">5.7  0.23</text>
<text x="395.60" y="395.00" font-size="9.9" stroke-width="0.3" text-anchor="middle">Vehicle</text>
<text x="437.20" y="395.00" font-size="9.9" stroke-width="0.3" text-anchor="middle">dmPGE<tspan font-size="70%" dy="1.5">2</tspan></text>
<text x="480.20" y="395.00" font-size="9.9" stroke-width="0.3" text-anchor="middle">DMOG</text>
<text x="361.00" y="256.00" font-size="6.4" stroke-width="0.3" text-anchor="middle">CD45.2</text>
<text x="419.50" y="256.00" font-size="6.4" stroke-width="0.3" text-anchor="middle">CD45.1</text>
<text x="388.50" y="229.00" font-size="7.2" stroke-width="0.3" text-anchor="middle">Harvest</text>
<text x="388.50" y="238.00" font-size="7.2" stroke-width="0.3" text-anchor="middle">cells</text>
<text x="388.80" y="249.60" font-size="7.2" stroke-width="0.3" text-anchor="middle" font-style="italic">Ex vivo</text>
<text x="388.50" y="258.30" font-size="7.2" stroke-width="0.3" text-anchor="middle">pulse</text>
<text x="444.30" y="238.00" font-size="7.2" stroke-width="0.3" text-anchor="middle">Transplant</text>
<text x="488.70" y="235.40" font-size="7.3" stroke-width="0.3" text-anchor="middle">Analyze</text>
<text x="488.60" y="244.40" font-size="7.3" stroke-width="0.3" text-anchor="middle">homed events</text>
<text x="488.50" y="253.50" font-size="7.4" stroke-width="0.3" text-anchor="middle">@ 16 hours</text>
<line x1="372.00" y1="240.80" x2="405.00" y2="240.80" stroke="#000" stroke-width="0.9"/>
<polygon points="408,240.8 403.5,238.6 403.5,243" fill="#000"/>
<line x1="427.70" y1="240.60" x2="461.50" y2="240.60" stroke="#000" stroke-width="0.9"/>
<polygon points="464.2,240.6 459.7,238.4 459.7,242.8" fill="#000"/>
<g transform="translate(352.00,226.00)" fill="#0a0a0a" stroke="none"><path d="M6.6,10.6 C5.4,12.6 5.3,16.8 6.2,19.6 L5.8,20.9 L9.2,21.4 L12.8,21.0 C13.9,18.6 13.8,14.6 12.2,12.2 C11.2,10.8 9.8,9.8 8.6,9.8 Z"/><ellipse cx="7.6" cy="8.6" rx="2.9" ry="2.4" transform="rotate(-25 7.6 8.6)"/><path d="M3.9,8.0 L6.2,6.9 L6.6,9.8 Z"/><circle cx="7.4" cy="6.0" r="1.2"/><circle cx="10.0" cy="7.0" r="1.15"/><ellipse cx="5.2" cy="13.9" rx="1.0" ry="0.7"/><path d="M12.4,20.2 C15.4,18.8 15.4,14.2 14.7,11.2 C14.2,9.0 15.4,7.4 17.2,7.2" fill="none" stroke="#0a0a0a" stroke-width="0.85"/></g>
<g transform="translate(406.90,226.20)" fill="#c9c9c9" stroke="none"><path d="M6.6,10.6 C5.4,12.6 5.3,16.8 6.2,19.6 L5.8,20.9 L9.2,21.4 L12.8,21.0 C13.9,18.6 13.8,14.6 12.2,12.2 C11.2,10.8 9.8,9.8 8.6,9.8 Z"/><ellipse cx="7.6" cy="8.6" rx="2.9" ry="2.4" transform="rotate(-25 7.6 8.6)"/><path d="M3.9,8.0 L6.2,6.9 L6.6,9.8 Z"/><circle cx="7.4" cy="6.0" r="1.2"/><circle cx="10.0" cy="7.0" r="1.15"/><ellipse cx="5.2" cy="13.9" rx="1.0" ry="0.7"/><path d="M12.4,20.2 C15.4,18.8 15.4,14.2 14.7,11.2 C14.2,9.0 15.4,7.4 17.2,7.2" fill="none" stroke="#c9c9c9" stroke-width="0.85"/></g>
<polygon points="410.4,217.8 412.6,214.9 414.8,220.2 413.9,220.7 416.6,228.9 412.8,222.6 413.8,222.1" fill="#9a9a9a" stroke="#111" stroke-width="0.8" stroke-linejoin="round"/>
<polygon points="413.9,222.3 415.0,222.0 416.6,228.9" fill="#000"/>
<line x1="42.70" y1="421.20" x2="42.70" y2="545.10" stroke="#333" stroke-width="1"/>
<line x1="42.20" y1="544.60" x2="166.00" y2="544.60" stroke="#333" stroke-width="1"/>
<text x="40.20" y="518.70" font-size="8.5" stroke-width="0.3" text-anchor="end">1</text>
<line x1="41.20" y1="515.60" x2="42.70" y2="515.60" stroke="#333" stroke-width="0.8"/>
<text x="40.20" y="487.60" font-size="8.5" stroke-width="0.3" text-anchor="end">2</text>
<line x1="41.20" y1="484.50" x2="42.70" y2="484.50" stroke="#333" stroke-width="0.8"/>
<text x="40.20" y="456.50" font-size="8.5" stroke-width="0.3" text-anchor="end">3</text>
<line x1="41.20" y1="453.40" x2="42.70" y2="453.40" stroke="#333" stroke-width="0.8"/>
<text x="40.20" y="425.40" font-size="8.5" stroke-width="0.3" text-anchor="end">4</text>
<line x1="41.20" y1="422.30" x2="42.70" y2="422.30" stroke="#333" stroke-width="0.8"/>
<text x="27.40" y="479.85" font-size="10.58" stroke-width="0.5" text-anchor="middle" transform="rotate(-90 27.40 479.85)">% Homing Efficiency</text>
<rect x="52.00" y="516.00" width="10.00" height="28.60" fill="#c4c4c4" stroke="#3a3a3a" stroke-width="1"/>
<line x1="57.00" y1="515.50" x2="57.00" y2="508.40" stroke="#111" stroke-width="1.2"/>
<line x1="54.25" y1="508.40" x2="59.75" y2="508.40" stroke="#111" stroke-width="1.2"/>
<rect x="69.90" y="524.20" width="9.90" height="20.40" fill="url(#hG1)" stroke="#222" stroke-width="1"/>
<line x1="74.85" y1="523.70" x2="74.85" y2="519.90" stroke="#111" stroke-width="1.2"/>
<line x1="72.10" y1="519.90" x2="77.60" y2="519.90" stroke="#111" stroke-width="1.2"/>
<rect x="86.70" y="441.50" width="10.40" height="103.10" fill="#000" stroke="#000" stroke-width="1"/>
<line x1="91.90" y1="441.00" x2="91.90" y2="431.00" stroke="#111" stroke-width="1.2"/>
<line x1="89.15" y1="431.00" x2="94.65" y2="431.00" stroke="#111" stroke-width="1.2"/>
<rect x="104.90" y="499.40" width="10.20" height="45.20" fill="url(#hG2)" stroke="#111" stroke-width="1"/>
<line x1="110.00" y1="498.90" x2="110.00" y2="495.40" stroke="#111" stroke-width="1.2"/>
<line x1="107.25" y1="495.40" x2="112.75" y2="495.40" stroke="#111" stroke-width="1.2"/>
<rect x="122.70" y="463.50" width="9.80" height="81.10" fill="#fff" stroke="#222" stroke-width="1"/>
<line x1="127.60" y1="463.00" x2="127.60" y2="457.10" stroke="#111" stroke-width="1.2"/>
<line x1="124.85" y1="457.10" x2="130.35" y2="457.10" stroke="#111" stroke-width="1.2"/>
<rect x="140.00" y="524.20" width="9.70" height="20.40" fill="url(#hG3)" stroke="#222" stroke-width="1"/>
<line x1="144.85" y1="523.70" x2="144.85" y2="515.80" stroke="#111" stroke-width="1.2"/>
<line x1="142.10" y1="515.80" x2="147.60" y2="515.80" stroke="#111" stroke-width="1.2"/>
<text x="74.80" y="515.30" font-size="8" stroke-width="0.3" text-anchor="middle">n/s</text>
<text x="110.00" y="492.40" font-size="8" stroke-width="0.3" text-anchor="middle">n/s</text>
<text x="144.80" y="509.40" font-size="8" stroke-width="0.3" text-anchor="middle">n/s</text>
<polygon points="92.00,425.70 92.84,427.14 94.47,427.50 93.36,428.74 93.53,430.40 92.00,429.73 90.47,430.40 90.64,428.74 89.53,427.50 91.16,427.14" fill="#000"/>
<polygon points="127.70,449.70 128.54,451.14 130.17,451.50 129.06,452.74 129.23,454.40 127.70,453.73 126.17,454.40 126.34,452.74 125.23,451.50 126.86,451.14" fill="#000"/>
<text x="92.00" y="421.50" font-size="9.5" stroke-width="0.4" text-anchor="middle">†</text>
<text x="127.70" y="447.00" font-size="9.5" stroke-width="0.4" text-anchor="middle">‡</text>
<text x="10.60" y="557.60" font-size="8.6" stroke-width="0.35">dmPGE<tspan font-size="70%" dy="1.5">2</tspan></text>
<text x="10.60" y="568.50" font-size="8.6" stroke-width="0.35">DMOG</text>
<text x="10.60" y="579.30" font-size="8.6" stroke-width="0.35">AMD3100</text>
<text x="57.20" y="557.20" font-size="8.4" stroke-width="0.1" text-anchor="middle">-</text>
<text x="75.20" y="557.20" font-size="8.4" stroke-width="0.1" text-anchor="middle">-</text>
<text x="91.70" y="557.20" font-size="8.4" stroke-width="0.1" text-anchor="middle">+</text>
<text x="109.50" y="557.20" font-size="8.4" stroke-width="0.1" text-anchor="middle">+</text>
<text x="127.50" y="557.20" font-size="8.4" stroke-width="0.1" text-anchor="middle">-</text>
<text x="143.80" y="557.20" font-size="8.4" stroke-width="0.1" text-anchor="middle">-</text>
<text x="57.20" y="568.00" font-size="8.4" stroke-width="0.1" text-anchor="middle">-</text>
<text x="75.20" y="568.00" font-size="8.4" stroke-width="0.1" text-anchor="middle">-</text>
<text x="91.70" y="568.00" font-size="8.4" stroke-width="0.1" text-anchor="middle">-</text>
<text x="109.50" y="568.00" font-size="8.4" stroke-width="0.1" text-anchor="middle">-</text>
<text x="127.50" y="568.00" font-size="8.4" stroke-width="0.1" text-anchor="middle">+</text>
<text x="143.80" y="568.00" font-size="8.4" stroke-width="0.1" text-anchor="middle">+</text>
<text x="57.20" y="578.50" font-size="8.4" stroke-width="0.1" text-anchor="middle">-</text>
<text x="75.20" y="578.50" font-size="8.4" stroke-width="0.1" text-anchor="middle">+</text>
<text x="91.70" y="578.50" font-size="8.4" stroke-width="0.1" text-anchor="middle">-</text>
<text x="109.50" y="578.50" font-size="8.4" stroke-width="0.1" text-anchor="middle">+</text>
<text x="127.50" y="578.50" font-size="8.4" stroke-width="0.1" text-anchor="middle">-</text>
<text x="143.80" y="578.50" font-size="8.4" stroke-width="0.1" text-anchor="middle">+</text>
<line x1="209.00" y1="444.00" x2="209.00" y2="542.50" stroke="#333" stroke-width="1"/>
<line x1="208.70" y1="542.20" x2="321.00" y2="542.20" stroke="#333" stroke-width="1"/>
<text x="207.80" y="533.90" font-size="8.5" stroke-width="0.3" text-anchor="end">0</text>
<line x1="207.50" y1="530.80" x2="209.00" y2="530.80" stroke="#333" stroke-width="0.8"/>
<text x="207.80" y="519.65" font-size="8.5" stroke-width="0.3" text-anchor="end">10</text>
<line x1="207.50" y1="516.55" x2="209.00" y2="516.55" stroke="#333" stroke-width="0.8"/>
<text x="207.80" y="505.40" font-size="8.5" stroke-width="0.3" text-anchor="end">20</text>
<line x1="207.50" y1="502.30" x2="209.00" y2="502.30" stroke="#333" stroke-width="0.8"/>
<text x="207.80" y="491.15" font-size="8.5" stroke-width="0.3" text-anchor="end">30</text>
<line x1="207.50" y1="488.05" x2="209.00" y2="488.05" stroke="#333" stroke-width="0.8"/>
<text x="207.80" y="476.90" font-size="8.5" stroke-width="0.3" text-anchor="end">40</text>
<line x1="207.50" y1="473.80" x2="209.00" y2="473.80" stroke="#333" stroke-width="0.8"/>
<text x="207.80" y="462.65" font-size="8.5" stroke-width="0.3" text-anchor="end">50</text>
<line x1="207.50" y1="459.55" x2="209.00" y2="459.55" stroke="#333" stroke-width="0.8"/>
<text x="207.80" y="448.40" font-size="8.5" stroke-width="0.3" text-anchor="end">60</text>
<line x1="207.50" y1="445.30" x2="209.00" y2="445.30" stroke="#333" stroke-width="0.8"/>
<text x="190.60" y="492.75" font-size="10.38" stroke-width="0.5" text-anchor="middle" transform="rotate(-90 190.60 492.75)">% Chimerism</text>
<circle cx="215.90" cy="447.40" r="1.90" fill="#fff" stroke="#000" stroke-width="0.8"/>
<circle cx="215.90" cy="457.40" r="2.30" fill="#000"/>
<text x="222.80" y="451.50" font-size="8.7" stroke-width="0.3">DMOG</text>
<text x="222.80" y="461.30" font-size="8.7" stroke-width="0.3">Vehicle</text>
<text x="229.00" y="552.80" font-size="8.0" stroke-width="0.3" text-anchor="middle">0.075:1</text>
<line x1="229.00" y1="542.20" x2="229.00" y2="544.00" stroke="#333" stroke-width="0.8"/>
<text x="257.20" y="552.80" font-size="8.0" stroke-width="0.3" text-anchor="middle">0.25:1</text>
<line x1="257.20" y1="542.20" x2="257.20" y2="544.00" stroke="#333" stroke-width="0.8"/>
<text x="283.80" y="552.80" font-size="8.0" stroke-width="0.3" text-anchor="middle">0.5:1</text>
<line x1="283.80" y1="542.20" x2="283.80" y2="544.00" stroke="#333" stroke-width="0.8"/>
<text x="311.00" y="552.80" font-size="8.0" stroke-width="0.3" text-anchor="middle">1:1</text>
<line x1="311.00" y1="542.20" x2="311.00" y2="544.00" stroke="#333" stroke-width="0.8"/>
<text x="267.70" y="564.60" font-size="10.8" stroke-width="0.5" text-anchor="middle">Dilution</text>
<line x1="257.20" y1="483.00" x2="257.20" y2="512.30" stroke="#666" stroke-width="1"/>
<line x1="255.40" y1="483.00" x2="259.00" y2="483.00" stroke="#666" stroke-width="1"/>
<line x1="255.40" y1="512.30" x2="259.00" y2="512.30" stroke="#666" stroke-width="1"/>
<line x1="283.80" y1="470.00" x2="283.80" y2="487.70" stroke="#666" stroke-width="1"/>
<line x1="282.00" y1="470.00" x2="285.60" y2="470.00" stroke="#666" stroke-width="1"/>
<line x1="282.00" y1="487.70" x2="285.60" y2="487.70" stroke="#666" stroke-width="1"/>
<line x1="311.00" y1="448.60" x2="311.00" y2="476.30" stroke="#666" stroke-width="1"/>
<line x1="309.20" y1="448.60" x2="312.80" y2="448.60" stroke="#666" stroke-width="1"/>
<line x1="309.20" y1="476.30" x2="312.80" y2="476.30" stroke="#666" stroke-width="1"/>
<line x1="257.20" y1="523.00" x2="257.20" y2="529.00" stroke="#333" stroke-width="1"/>
<line x1="255.40" y1="523.00" x2="259.00" y2="523.00" stroke="#333" stroke-width="1"/>
<line x1="255.40" y1="529.00" x2="259.00" y2="529.00" stroke="#333" stroke-width="1"/>
<line x1="283.80" y1="497.80" x2="283.80" y2="510.00" stroke="#333" stroke-width="1"/>
<line x1="282.00" y1="497.80" x2="285.60" y2="497.80" stroke="#333" stroke-width="1"/>
<line x1="282.00" y1="510.00" x2="285.60" y2="510.00" stroke="#333" stroke-width="1"/>
<line x1="311.00" y1="483.00" x2="311.00" y2="505.50" stroke="#333" stroke-width="1"/>
<line x1="309.20" y1="483.00" x2="312.80" y2="483.00" stroke="#333" stroke-width="1"/>
<line x1="309.20" y1="505.50" x2="312.80" y2="505.50" stroke="#333" stroke-width="1"/>
<line x1="229.00" y1="523.50" x2="229.00" y2="530.00" stroke="#555" stroke-width="1"/>
<circle cx="229.00" cy="528.60" r="2.70" fill="#000"/>
<circle cx="257.20" cy="525.50" r="2.70" fill="#000"/>
<circle cx="283.80" cy="504.00" r="2.70" fill="#000"/>
<circle cx="311.00" cy="494.50" r="2.70" fill="#000"/>
<circle cx="229.00" cy="526.20" r="2.50" fill="#fff" stroke="#000" stroke-width="0.9"/>
<circle cx="257.20" cy="498.60" r="2.50" fill="#fff" stroke="#000" stroke-width="0.9"/>
<circle cx="283.80" cy="479.00" r="2.50" fill="#fff" stroke="#000" stroke-width="0.9"/>
<circle cx="311.00" cy="463.00" r="2.50" fill="#fff" stroke="#000" stroke-width="0.9"/>
<polygon points="257.20,472.20 258.04,473.64 259.67,474.00 258.56,475.24 258.73,476.90 257.20,476.23 255.67,476.90 255.84,475.24 254.73,474.00 256.36,473.64" fill="#000"/>
<polygon points="283.80,459.40 284.64,460.84 286.27,461.20 285.16,462.44 285.33,464.10 283.80,463.43 282.27,464.10 282.44,462.44 281.33,461.20 282.96,460.84" fill="#000"/>
<polygon points="311.00,438.00 311.84,439.44 313.47,439.80 312.36,441.04 312.53,442.70 311.00,442.03 309.47,442.70 309.64,441.04 308.53,439.80 310.16,439.44" fill="#000"/>
<text x="445.50" y="426.50" font-size="8.2" stroke-width="0.3" text-anchor="middle"># of transplanted  cells</text>
<text x="396.50" y="436.80" font-size="8" stroke-width="0.3" text-anchor="middle">5.0e+4</text>
<text x="427.30" y="436.80" font-size="8" stroke-width="0.3" text-anchor="middle">1.0e+5</text>
<text x="458.40" y="436.80" font-size="8" stroke-width="0.3" text-anchor="middle">1.5e+5</text>
<text x="490.20" y="436.80" font-size="8" stroke-width="0.3" text-anchor="middle">2.0e+5</text>
<line x1="373.00" y1="438.60" x2="520.00" y2="438.60" stroke="#111" stroke-width="1"/>
<line x1="373.20" y1="438.60" x2="373.20" y2="554.00" stroke="#111" stroke-width="1"/>
<line x1="372.80" y1="553.80" x2="520.00" y2="553.80" stroke="#111" stroke-width="1"/>
<text x="368.30" y="443.80" font-size="7.3" stroke-width="0.3" text-anchor="end">100</text>
<text x="369.50" y="497.80" font-size="7.3" stroke-width="0.3" text-anchor="end">10</text>
<line x1="373.20" y1="536.46" x2="374.80" y2="536.46" stroke="#333" stroke-width="0.9"/>
<line x1="373.20" y1="526.32" x2="374.80" y2="526.32" stroke="#333" stroke-width="0.9"/>
<line x1="373.20" y1="519.12" x2="374.80" y2="519.12" stroke="#333" stroke-width="0.9"/>
<line x1="373.20" y1="513.54" x2="374.80" y2="513.54" stroke="#333" stroke-width="0.9"/>
<line x1="373.20" y1="508.98" x2="374.80" y2="508.98" stroke="#333" stroke-width="0.9"/>
<line x1="373.20" y1="505.12" x2="374.80" y2="505.12" stroke="#333" stroke-width="0.9"/>
<line x1="373.20" y1="501.78" x2="374.80" y2="501.78" stroke="#333" stroke-width="0.9"/>
<line x1="373.20" y1="498.84" x2="374.80" y2="498.84" stroke="#333" stroke-width="0.9"/>
<line x1="373.20" y1="478.86" x2="374.80" y2="478.86" stroke="#333" stroke-width="0.9"/>
<line x1="373.20" y1="468.72" x2="374.80" y2="468.72" stroke="#333" stroke-width="0.9"/>
<line x1="373.20" y1="461.52" x2="374.80" y2="461.52" stroke="#333" stroke-width="0.9"/>
<line x1="373.20" y1="455.94" x2="374.80" y2="455.94" stroke="#333" stroke-width="0.9"/>
<line x1="373.20" y1="451.38" x2="374.80" y2="451.38" stroke="#333" stroke-width="0.9"/>
<line x1="373.20" y1="447.52" x2="374.80" y2="447.52" stroke="#333" stroke-width="0.9"/>
<line x1="373.20" y1="444.18" x2="374.80" y2="444.18" stroke="#333" stroke-width="0.9"/>
<line x1="373.20" y1="441.24" x2="374.80" y2="441.24" stroke="#333" stroke-width="0.9"/>
<text x="369.50" y="557.90" font-size="7.3" stroke-width="0.3" text-anchor="end">1</text>
<line x1="371.00" y1="496.20" x2="373.20" y2="496.20" stroke="#111" stroke-width="0.8"/>
<line x1="396.70" y1="438.60" x2="396.70" y2="553.80" stroke="#333" stroke-width="1" stroke-dasharray="5,1.2"/>
<line x1="438.70" y1="438.60" x2="438.70" y2="553.80" stroke="#333" stroke-width="1" stroke-dasharray="5,1.2"/>
<line x1="373.20" y1="462.40" x2="438.70" y2="462.40" stroke="#555" stroke-width="0.9" stroke-dasharray="2.5,1.5"/>
<line x1="374.00" y1="439.00" x2="514.50" y2="491.60" stroke="#000" stroke-width="1.4"/>
<line x1="373.80" y1="440.20" x2="486.20" y2="553.80" stroke="#000" stroke-width="1.4" stroke-dasharray="4.5,2.5"/>
<circle cx="374.80" cy="439.50" r="2.70" fill="#000"/>
<circle cx="399.50" cy="446.60" r="2.70" fill="#000"/>
<circle cx="427.40" cy="462.10" r="2.70" fill="#000"/>
<circle cx="490.40" cy="491.90" r="2.70" fill="#000"/>
<circle cx="381.00" cy="440.60" r="2.30" fill="#fff" stroke="#000" stroke-width="0.8"/>
<circle cx="399.60" cy="464.00" r="2.30" fill="#fff" stroke="#000" stroke-width="0.8"/>
<circle cx="427.30" cy="551.20" r="2.30" fill="#fff" stroke="#000" stroke-width="0.8"/>
<circle cx="489.60" cy="551.20" r="2.30" fill="#fff" stroke="#000" stroke-width="0.8"/>
<line x1="461.50" y1="465.20" x2="473.50" y2="465.20" stroke="#000" stroke-width="1.4"/>
<path d="M467.80,461.40 L461.00,465.20 L467.80,469.00" fill="none" stroke="#000" stroke-width="1.4" stroke-linejoin="miter"/>
<text x="476.70" y="466.10" font-size="9.3" stroke-width="0.4">1:121,319</text>
<line x1="449.80" y1="510.80" x2="461.50" y2="510.80" stroke="#000" stroke-width="1.4"/>
<path d="M456.10,507.00 L449.30,510.80 L456.10,514.60" fill="none" stroke="#000" stroke-width="1.4" stroke-linejoin="miter"/>
<text x="462.80" y="511.60" font-size="9.3" stroke-width="0.4">1:53,956</text>
<circle cx="390.90" cy="563.40" r="2.30" fill="#000"/>
<line x1="396.50" y1="563.00" x2="413.80" y2="563.00" stroke="#000" stroke-width="1.6"/>
<text x="419.50" y="567.60" font-size="8.6" stroke-width="0.3">Vehicle</text>
<circle cx="458.20" cy="563.20" r="2.00" fill="#fff" stroke="#000" stroke-width="0.8"/>
<line x1="465.60" y1="563.00" x2="481.00" y2="563.00" stroke="#000" stroke-width="1.6" stroke-dasharray="6,4"/>
<text x="485.40" y="567.80" font-size="8.6" stroke-width="0.3">DMOG</text>
<line x1="48.20" y1="611.00" x2="48.20" y2="718.00" stroke="#333" stroke-width="1"/>
<line x1="47.80" y1="717.20" x2="127.50" y2="717.20" stroke="#333" stroke-width="1"/>
<text x="44.30" y="708.85" font-size="7.8" stroke-width="0.3" text-anchor="end">0.2</text>
<line x1="46.70" y1="705.85" x2="48.20" y2="705.85" stroke="#333" stroke-width="0.8"/>
<text x="44.30" y="697.10" font-size="7.8" stroke-width="0.3" text-anchor="end">0.4</text>
<line x1="46.70" y1="694.10" x2="48.20" y2="694.10" stroke="#333" stroke-width="0.8"/>
<text x="44.30" y="685.35" font-size="7.8" stroke-width="0.3" text-anchor="end">0.6</text>
<line x1="46.70" y1="682.35" x2="48.20" y2="682.35" stroke="#333" stroke-width="0.8"/>
<text x="44.30" y="673.60" font-size="7.8" stroke-width="0.3" text-anchor="end">0.8</text>
<line x1="46.70" y1="670.60" x2="48.20" y2="670.60" stroke="#333" stroke-width="0.8"/>
<text x="44.30" y="661.85" font-size="7.8" stroke-width="0.3" text-anchor="end">1.0</text>
<line x1="46.70" y1="658.85" x2="48.20" y2="658.85" stroke="#333" stroke-width="0.8"/>
<text x="44.30" y="650.10" font-size="7.8" stroke-width="0.3" text-anchor="end">1.2</text>
<line x1="46.70" y1="647.10" x2="48.20" y2="647.10" stroke="#333" stroke-width="0.8"/>
<text x="44.30" y="638.35" font-size="7.8" stroke-width="0.3" text-anchor="end">1.4</text>
<line x1="46.70" y1="635.35" x2="48.20" y2="635.35" stroke="#333" stroke-width="0.8"/>
<text x="44.30" y="626.60" font-size="7.8" stroke-width="0.3" text-anchor="end">1.6</text>
<line x1="46.70" y1="623.60" x2="48.20" y2="623.60" stroke="#333" stroke-width="0.8"/>
<text x="44.30" y="614.85" font-size="7.8" stroke-width="0.3" text-anchor="end">1.8</text>
<line x1="46.70" y1="611.85" x2="48.20" y2="611.85" stroke="#333" stroke-width="0.8"/>
<rect x="52.60" y="611.30" width="7.50" height="6.30" fill="#000"/>
<rect x="53.10" y="624.80" width="6.80" height="6.30" fill="#fff" stroke="#222" stroke-width="0.9"/>
<text x="62.00" y="617.60" font-size="8.6" stroke-width="0.3">Vehicle</text>
<text x="62.00" y="630.90" font-size="8.6" stroke-width="0.3">DMOG</text>
<rect x="53.50" y="688.00" width="31.20" height="29.40" fill="#000" stroke="#000" stroke-width="1"/>
<line x1="69.10" y1="687.50" x2="69.10" y2="680.20" stroke="#111" stroke-width="1.2"/>
<line x1="67.35" y1="680.20" x2="70.85" y2="680.20" stroke="#111" stroke-width="1.2"/>
<rect x="89.80" y="639.80" width="31.40" height="77.60" fill="#fff" stroke="#222" stroke-width="1"/>
<line x1="105.50" y1="639.30" x2="105.50" y2="618.00" stroke="#111" stroke-width="1.2"/>
<line x1="103.75" y1="618.00" x2="107.25" y2="618.00" stroke="#111" stroke-width="1.2"/>
<polygon points="105.50,609.70 106.34,611.14 107.97,611.50 106.86,612.74 107.03,614.40 105.50,613.73 103.97,614.40 104.14,612.74 103.03,611.50 104.66,611.14" fill="#000"/>
<text x="30.30" y="664.15" font-size="10.56" stroke-width="0.5" text-anchor="middle" transform="rotate(-90 30.30 664.15)">CRU per 100K cells</text>
<line x1="210.20" y1="608.80" x2="210.20" y2="718.00" stroke="#333" stroke-width="1"/>
<line x1="209.90" y1="717.30" x2="308.70" y2="717.30" stroke="#333" stroke-width="1"/>
<text x="207.20" y="720.30" font-size="8.8" stroke-width="0.3" text-anchor="end">0</text>
<line x1="208.70" y1="717.10" x2="210.20" y2="717.10" stroke="#333" stroke-width="0.8"/>
<text x="207.20" y="693.35" font-size="8.8" stroke-width="0.3" text-anchor="end">10</text>
<line x1="208.70" y1="690.15" x2="210.20" y2="690.15" stroke="#333" stroke-width="0.8"/>
<text x="207.20" y="666.40" font-size="8.8" stroke-width="0.3" text-anchor="end">20</text>
<line x1="208.70" y1="663.20" x2="210.20" y2="663.20" stroke="#333" stroke-width="0.8"/>
<text x="207.20" y="639.45" font-size="8.8" stroke-width="0.3" text-anchor="end">30</text>
<line x1="208.70" y1="636.25" x2="210.20" y2="636.25" stroke="#333" stroke-width="0.8"/>
<text x="207.20" y="612.50" font-size="8.8" stroke-width="0.3" text-anchor="end">40</text>
<line x1="208.70" y1="609.30" x2="210.20" y2="609.30" stroke="#333" stroke-width="0.8"/>
<rect x="218.00" y="612.00" width="7.50" height="6.30" fill="#000"/>
<rect x="218.50" y="625.40" width="6.80" height="6.30" fill="#fff" stroke="#222" stroke-width="0.9"/>
<text x="227.50" y="618.30" font-size="8.6" stroke-width="0.3">Vehicle</text>
<text x="227.50" y="631.60" font-size="8.6" stroke-width="0.3">DMOG</text>
<rect x="223.50" y="690.50" width="32.00" height="26.80" fill="#000" stroke="#000" stroke-width="1"/>
<line x1="239.50" y1="690.00" x2="239.50" y2="685.50" stroke="#111" stroke-width="1.2"/>
<line x1="238.00" y1="685.50" x2="241.00" y2="685.50" stroke="#111" stroke-width="1.2"/>
<rect x="268.80" y="638.20" width="31.70" height="79.10" fill="#fff" stroke="#222" stroke-width="1"/>
<line x1="284.60" y1="637.70" x2="284.60" y2="618.80" stroke="#111" stroke-width="1.2"/>
<line x1="283.10" y1="618.80" x2="286.10" y2="618.80" stroke="#111" stroke-width="1.2"/>
<polygon points="284.60,610.40 285.44,611.84 287.07,612.20 285.96,613.44 286.13,615.10 284.60,614.43 283.07,615.10 283.24,613.44 282.13,612.20 283.76,611.84" fill="#000"/>
<text x="195.00" y="663.85" font-size="11.19" stroke-width="0.5" text-anchor="middle" transform="rotate(-90 195.00 663.85)">% Chimerism</text>
</svg>
</body></html>
